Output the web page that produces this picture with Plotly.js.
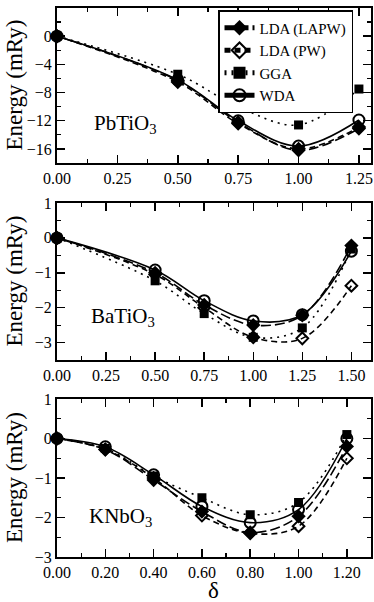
<!DOCTYPE html>
<html>
<head>
<meta charset="utf-8">
<script src="https://cdn.plot.ly/plotly-3.0.1.min.js"></script>
<style>html,body{margin:0;padding:0;background:#fff;}#chart{width:374px;height:602px;}</style>
</head>
<body>
<div id="chart"></div>
<script>
// ---- data ----
const seriesNames = ["LDA (LAPW)", "LDA (PW)", "GGA", "WDA"];
const panelLabels = ["PbTiO<sub>3</sub>", "BaTiO<sub>3</sub>", "KNbO<sub>3</sub>"];

// Panel 1: PbTiO3
const delta1 = [0, 0.5, 0.75, 1.0, 1.25];
const lapw1 = [0, -6.3, -12.2, -16.2, -13.1];
const pw1   = [0, -6.5, -12.4, -16.0, -12.9];
const gga1  = [0, -5.4, -10.0, -12.6, -7.5];
const wda1  = [0, -6.2, -12.0, -15.6, -11.9];

// Panel 2: BaTiO3
const delta2 = [0, 0.5, 0.75, 1.0, 1.25, 1.5];
const lapw2 = [0, -1.0, -1.92, -2.5, -2.22, -0.22];
const pw2   = [0, -1.05, -2.0, -2.85, -2.88, -1.37];
const gga2  = [0, -1.23, -2.17, -2.85, -2.58, -0.32];
const wda2  = [0, -0.92, -1.8, -2.38, -2.2, -0.38];

// Panel 3: KNbO3
const delta3 = [0, 0.2, 0.4, 0.6, 0.8, 1.0, 1.2];
const lapw3 = [0, -0.28, -1.05, -1.85, -2.38, -1.97, -0.2];
const pw3   = [0, -0.28, -1.0, -1.95, -2.4, -2.22, -0.5];
const gga3  = [0, -0.25, -0.95, -1.5, -1.93, -1.62, 0.1];
const wda3  = [0, -0.21, -0.92, -1.72, -2.13, -1.8, 0.0];

// ---- styles ----
const FONT = "Liberation Serif";
const styles = [
  {marker:{symbol:"diamond", size:11, color:"#000"}, line:{color:"#000", width:1.6, dash:"10px,4px"}},
  {marker:{symbol:"diamond-open", size:9, color:"#000", line:{width:2, color:"#000"}}, line:{color:"#000", width:1.6, dash:"6px,4px"}},
  {marker:{symbol:"square", size:9, color:"#000"}, line:{color:"#000", width:1.6, dash:"2px,5px"}},
  {marker:{symbol:"circle-open", size:11, color:"#000", line:{width:2, color:"#000"}}, line:{color:"#000", width:1.6}}
];

const panels = [
  {x: delta1, ys: [lapw1, pw1, gga1, wda1]},
  {x: delta2, ys: [lapw2, pw2, gga2, wda2]},
  {x: delta3, ys: [lapw3, pw3, gga3, wda3]}
];

const traces = [];
panels.forEach((p, pi) => {
  p.ys.forEach((y, si) => {
    const s = styles[si];
    traces.push({
      type: "scatter", mode: "lines+markers",
      x: p.x, y: y,
      name: seriesNames[si],
      showlegend: pi === 0,
      xaxis: pi === 0 ? "x" : "x" + (pi + 1),
      yaxis: pi === 0 ? "y" : "y" + (pi + 1),
      line: Object.assign({shape: "spline", smoothing: 1}, s.line),
      marker: s.marker,
      cliponaxis: false
    });
  });
});

function axis(range, dtick, minor, domain, anchor, fmt) {
  const a = {
    domain: domain, range: range, anchor: anchor,
    dtick: dtick, tick0: 0,
    showline: true, linewidth: 2, linecolor: "#000", mirror: "allticks",
    ticks: "inside", ticklen: 8, tickwidth: 1.5, tickcolor: "#000",
    minor: {ticks: "inside", ticklen: 4, tickwidth: 1.2, dtick: minor, tick0: 0, tickcolor: "#000"},
    showgrid: false, zeroline: false, fixedrange: true,
    tickfont: {family: FONT, size: 16, color: "#000"}
  };
  if (fmt) a.tickformat = fmt;
  return a;
}

const xdom = [57/374, 371/374];
const d1 = [1 - 163/602, 1 - 8/602];
const d2 = [1 - 360/602, 1 - 203/602];
const d3 = [1 - 557/602, 1 - 399/602];

const annotations = [];
[d1, d2, d3].forEach((d) => {
  annotations.push({
    xref: "paper", yref: "paper", x: 14/374, y: (d[0] + d[1]) / 2,
    xanchor: "center", yanchor: "middle",
    text: "Energy (mRy)", textangle: -90, showarrow: false,
    font: {family: FONT, size: 23, color: "#000"}
  });
});
const labelPos = [[92, 124], [89, 317], [87, 517]];
panelLabels.forEach((t, i) => {
  annotations.push({
    xref: "paper", yref: "paper", x: labelPos[i][0]/374, y: 1 - labelPos[i][1]/602,
    xanchor: "left", yanchor: "middle",
    text: t, showarrow: false,
    font: {family: FONT, size: 21, color: "#000"}
  });
});
annotations.push({
  xref: "paper", yref: "paper", x: 214/374, y: 1 - 590/602,
  xanchor: "center", yanchor: "middle",
  text: "δ", showarrow: false,
  font: {family: FONT, size: 23, color: "#000"}
});

const layout = {
  width: 374, height: 602,
  margin: {l: 0, r: 0, t: 0, b: 0},
  paper_bgcolor: "#fff", plot_bgcolor: "#fff",
  showlegend: true,
  legend: {
    x: 218/374, y: 1 - 10/602, xanchor: "left", yanchor: "top",
    bgcolor: "#fff", bordercolor: "#000", borderwidth: 1.5,
    font: {family: FONT, size: 15, color: "#000"},
    traceorder: "normal", itemwidth: 30, itemsizing: "constant",
    tracegroupgap: 0
  },
  xaxis: axis([0, 1.3], 0.25, 0.125, xdom, "y", ".2f"),
  yaxis: axis([-18, 4], 4, 2, d1, "x"),
  xaxis2: axis([0, 1.6], 0.25, 0.125, xdom, "y2", ".2f"),
  yaxis2: axis([-3.5, 1], 1, 0.5, d2, "x2"),
  xaxis3: axis([0, 1.3], 0.2, 0.1, xdom, "y3", ".2f"),
  yaxis3: axis([-3, 1], 1, 0.5, d3, "x3"),
  annotations: annotations
};

Plotly.newPlot("chart", traces, layout, {staticPlot: true, displayModeBar: false});
</script>
</body>
</html>
